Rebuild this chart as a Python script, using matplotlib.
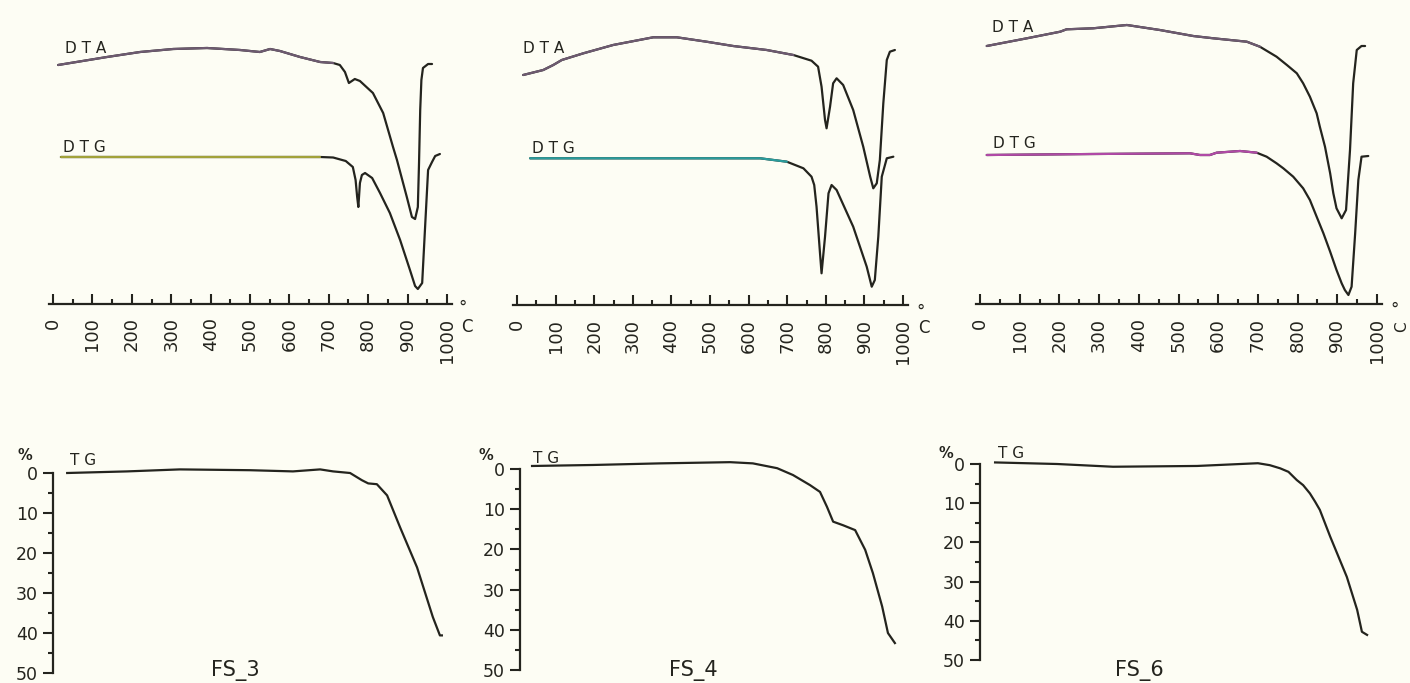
import numpy as np
import matplotlib
matplotlib.use("Agg")
import matplotlib.pyplot as plt

# ---------------- data ----------------
samples = ["FS_3", "FS_4", "FS_6"]
temp_ticks = [0, 100, 200, 300, 400, 500, 600, 700, 800, 900, 1000]
tg_ticks = [0, 10, 20, 30, 40, 50]

# DTA / DTG curves (arbitrary units, height above the temperature axis)
fs3_dta_T = [13, 137, 221, 305, 391, 475, 525, 551, 576, 627, 678, 711, 728, 741, 751, 766, 779,
             812, 838, 863, 873, 898, 911, 919, 926, 929, 932, 935, 939, 952, 962]
fs3_dta = [238.5, 246.5, 251.5, 254.5, 255.5, 253.5, 251.5, 254.5, 252.5, 246.5, 241.5, 240.5,
           238.5, 231.5, 220.5, 224.5, 222.5, 210.5, 190.5, 156.5, 143.5, 106.5, 86.5, 84.5,
           96.5, 140.5, 193.5, 223.5, 235.5, 239.5, 239.5]
fs3_dtg_T = [20, 678, 711, 743, 761, 768, 772, 775, 779, 784, 792, 810, 830, 855, 881, 906, 919,
             926, 937, 944, 952, 962, 970, 982]
fs3_dtg = [146.5, 146.5, 146, 142.5, 136.5, 123.5, 106.5, 96.5, 120.5, 128.5, 130.5, 125.5,
           110.5, 90.5, 63.5, 33.5, 17.5, 14.5, 20.5, 73.5, 133.5, 141.5, 147.5, 149.5]

fs4_dta_T = [16, 68, 94, 116, 172, 249, 353, 414, 491, 560, 647, 716, 763, 780, 789, 798, 802,
             811, 819, 828, 845, 871, 897, 915, 923, 932, 940, 949, 958, 966, 979]
fs4_dta = [230, 235, 240, 245, 251.7, 260, 267.7, 267.7, 263.3, 259, 255, 250, 244.3, 238.3,
           218.3, 185, 176.7, 198.3, 221.7, 226.7, 220, 195, 158.3, 128.3, 116.7, 121.7, 145,
           201.7, 245, 253.3, 255]
fs4_dtg_T = [34, 630, 699, 742, 763, 770, 776, 785, 789, 798, 807, 815, 828, 871, 906, 919, 927,
             936, 945, 958, 975]
fs4_dtg = [146.7, 146.7, 143.3, 136.7, 128.3, 120, 98.3, 51.7, 31.7, 68.3, 111.7, 120, 115, 78.3,
           38.3, 18.3, 25, 68.3, 128.3, 146.7, 148.3]

fs6_dta_T = [17, 118, 202, 218, 285, 370, 453, 537, 588, 672, 705, 747, 773, 798, 814, 831, 848,
             856, 869, 882, 890, 898, 911, 922, 932, 940, 949, 961, 970]
fs6_dta = [258, 265.7, 272.3, 274.7, 275.7, 279, 274, 268, 265.7, 262.3, 257.3, 247.3, 239, 230.7,
           220.7, 207.3, 190.7, 177.3, 157.3, 130.7, 110.7, 95.7, 85.7, 94, 154, 220.7, 254, 258,
           258]
fs6_dtg_T = [17, 285, 529, 554, 579, 596, 655, 697, 722, 747, 764, 789, 814, 831, 848, 865, 882,
             898, 911, 919, 928, 936, 945, 953, 961, 978]
fs6_dtg = [149, 150, 150.7, 149, 149, 151.3, 153, 151.3, 147.3, 140.7, 135.7, 127.3, 115.7, 104,
           87.3, 70.7, 52.3, 34, 20.7, 14, 9, 17.3, 70.7, 124, 147.3, 148]

# TG curves (% mass loss)
fs3_tg_T = [36, 188, 322, 500, 609, 678, 711, 754, 784, 800, 822, 848, 881, 924, 964, 982, 987]
fs3_tg = [0, -0.4, -0.9, -0.7, -0.4, -0.9, -0.4, 0, 1.8, 2.6, 2.8, 5.6, 13.6, 23.6, 36, 40.6, 40.6]
fs4_tg_T = [39, 197, 370, 552, 611, 674, 715, 759, 785, 803, 819, 845, 876, 902, 922, 946, 961, 979]
fs4_tg = [-0.75, -1, -1.4, -1.7, -1.4, -0.2, 1.5, 4, 5.7, 9.4, 13.1, 14, 15.2, 20.1, 25.9, 34.2,
          40.8, 43.3]
fs6_tg_T = [38, 194, 335, 547, 700, 730, 756, 777, 798, 814, 831, 844, 856, 882, 924, 950, 962, 975]
fs6_tg = [-0.4, 0, 0.7, 0.5, -0.2, 0.3, 1.1, 2.0, 4.1, 5.4, 7.5, 9.6, 11.7, 18.5, 28.8, 37.2, 42.8,
          43.6]

# ---------------- layout ----------------
W, H = 1410, 683
fig = plt.figure(figsize=(W / 100, H / 100), dpi=100)
bg = "#fdfdf4"
fig.patch.set_facecolor(bg)
ink = "#24241e"
lw = 1.6

def frac(x0, y0, x1, y1):
    # pixel box (top-left origin) -> figure fraction rect
    return [x0 / W, 1 - y1 / H, (x1 - x0) / W, (y1 - y0) / H]

def ftext(x, y, s, **kw):
    fig.text(x / W, 1 - y / H, s, color=ink, **kw)

panels = [
    dict(name=samples[0], x0=53, s=0.394, spine=303.5, tgx=53, tg0=473, tg50=673,
         dta=(fs3_dta_T, fs3_dta), dtg=(fs3_dtg_T, fs3_dtg), tg=(fs3_tg_T, fs3_tg),
         dtg_col="#a2a23a", dta_col="#6d5a70",
         dta_lbl=(65, 53), dtg_lbl=(63, 152), pct=(25, 456), tg_lbl=(70, 465), fs=(235, 676),
         deg=(463, 308), c=(467, 327), crot=0, cfs=12),
    dict(name=samples[1], x0=517, s=0.386, spine=305, tgx=520, tg0=469, tg50=670,
         dta=(fs4_dta_T, fs4_dta), dtg=(fs4_dtg_T, fs4_dtg), tg=(fs4_tg_T, fs4_tg),
         dtg_col="#2a9c9c", dta_col="#6d5a70",
         dta_lbl=(523, 53), dtg_lbl=(532, 153), pct=(486, 455), tg_lbl=(533, 463), fs=(693, 676),
         deg=(921, 312), c=(924, 328), crot=0, cfs=12),
    dict(name=samples[2], x0=980, s=0.397, spine=304, tgx=980, tg0=464, tg50=660,
         dta=(fs6_dta_T, fs6_dta), dtg=(fs6_dtg_T, fs6_dtg), tg=(fs6_tg_T, fs6_tg),
         dtg_col="#b04aa6", dta_col="#6d5a70",
         dta_lbl=(992, 32), dtg_lbl=(993, 148), pct=(946, 453), tg_lbl=(998, 458), fs=(1139, 676),
         deg=(1395, 310), c=(1402, 327), crot=90, cfs=11),
]

Tmin, Tmax = -10, 1012
for p in panels:
    x0, s = p["x0"], p["s"]
    # ---- DTA / DTG axes ----
    left = x0 + s * Tmin
    right = x0 + s * Tmax
    ax = fig.add_axes(frac(left, 0, right, p["spine"]))
    ax.set_xlim(Tmin, Tmax)
    ax.set_ylim(0, p["spine"])
    ax.patch.set_alpha(0)
    for k in ("left", "right", "top"):
        ax.spines[k].set_visible(False)
    ax.spines["bottom"].set_linewidth(1.6)
    ax.spines["bottom"].set_color(ink)
    ax.set_yticks([])
    ax.set_xticks(temp_ticks)
    ax.set_xticks([t + 50 for t in temp_ticks[:-1]], minor=True)
    ax.set_xticklabels([str(t) for t in temp_ticks], rotation=90, fontsize=13, color=ink,
                       va="top", ha="center")
    ax.tick_params(axis="x", which="major", direction="in", length=7, width=1.5, pad=10,
                   color=ink)
    ax.tick_params(axis="x", which="minor", direction="in", length=3.8, width=1.5, color=ink)

    Ta, va = p["dta"]
    Tg, vg = p["dtg"]
    ax.plot(Ta, va, color=ink, lw=lw, solid_joinstyle="round", solid_capstyle="round")
    ax.plot(Tg, vg, color=ink, lw=lw, solid_joinstyle="round", solid_capstyle="round")
    # scanned colour fringe on the flat parts of the traces
    Ta_arr, va_arr = np.array(Ta), np.array(va)
    Tg_arr, vg_arr = np.array(Tg), np.array(vg)
    ma = Ta_arr <= 720
    mg = Tg_arr <= 700
    ax.plot(Ta_arr[ma], va_arr[ma], color=p["dta_col"], lw=lw, solid_capstyle="round",
            solid_joinstyle="round")
    ax.plot(Tg_arr[mg], vg_arr[mg], color=p["dtg_col"], lw=lw, solid_capstyle="round",
            solid_joinstyle="round")

    ftext(*p["dta_lbl"], "D T A", fontsize=11, va="baseline", ha="left")
    ftext(*p["dtg_lbl"], "D T G", fontsize=11, va="baseline", ha="left")
    ftext(*p["deg"], "°", fontsize=12, va="center", ha="center")
    ftext(*p["c"], "C", fontsize=p["cfs"], va="center", ha="center", rotation=p["crot"])

    # ---- TG axes ----
    tl = (p["tgx"] - x0) / s
    tax = fig.add_axes(frac(p["tgx"], p["tg0"], x0 + s * Tmax, p["tg50"]))
    tax.set_xlim(tl, Tmax)
    tax.set_ylim(50, 0)
    tax.patch.set_alpha(0)
    for k in ("bottom", "right", "top"):
        tax.spines[k].set_visible(False)
    tax.spines["left"].set_linewidth(1.6)
    tax.spines["left"].set_color(ink)
    tax.set_xticks([])
    tax.set_yticks(tg_ticks)
    tax.set_yticks([t + 5 for t in tg_ticks[:-1]], minor=True)
    tax.set_yticklabels([str(t) for t in tg_ticks], fontsize=12.5, color=ink)
    tax.tick_params(axis="y", which="major", direction="out", length=7, width=1.5, pad=4,
                    color=ink)
    tax.tick_params(axis="y", which="minor", direction="out", length=3.6, width=1.5, color=ink)
    Tt, vt = p["tg"]
    tax.plot(Tt, vt, color=ink, lw=lw, clip_on=False, solid_joinstyle="round")

    ftext(*p["pct"], "%", fontsize=10.5, fontweight="bold", va="center", ha="center")
    ftext(*p["tg_lbl"], "T G", fontsize=11, va="baseline", ha="left")
    ftext(*p["fs"], p["name"], fontsize=15, va="baseline", ha="center")

fig.savefig("out.png", dpi=100, facecolor=bg)
